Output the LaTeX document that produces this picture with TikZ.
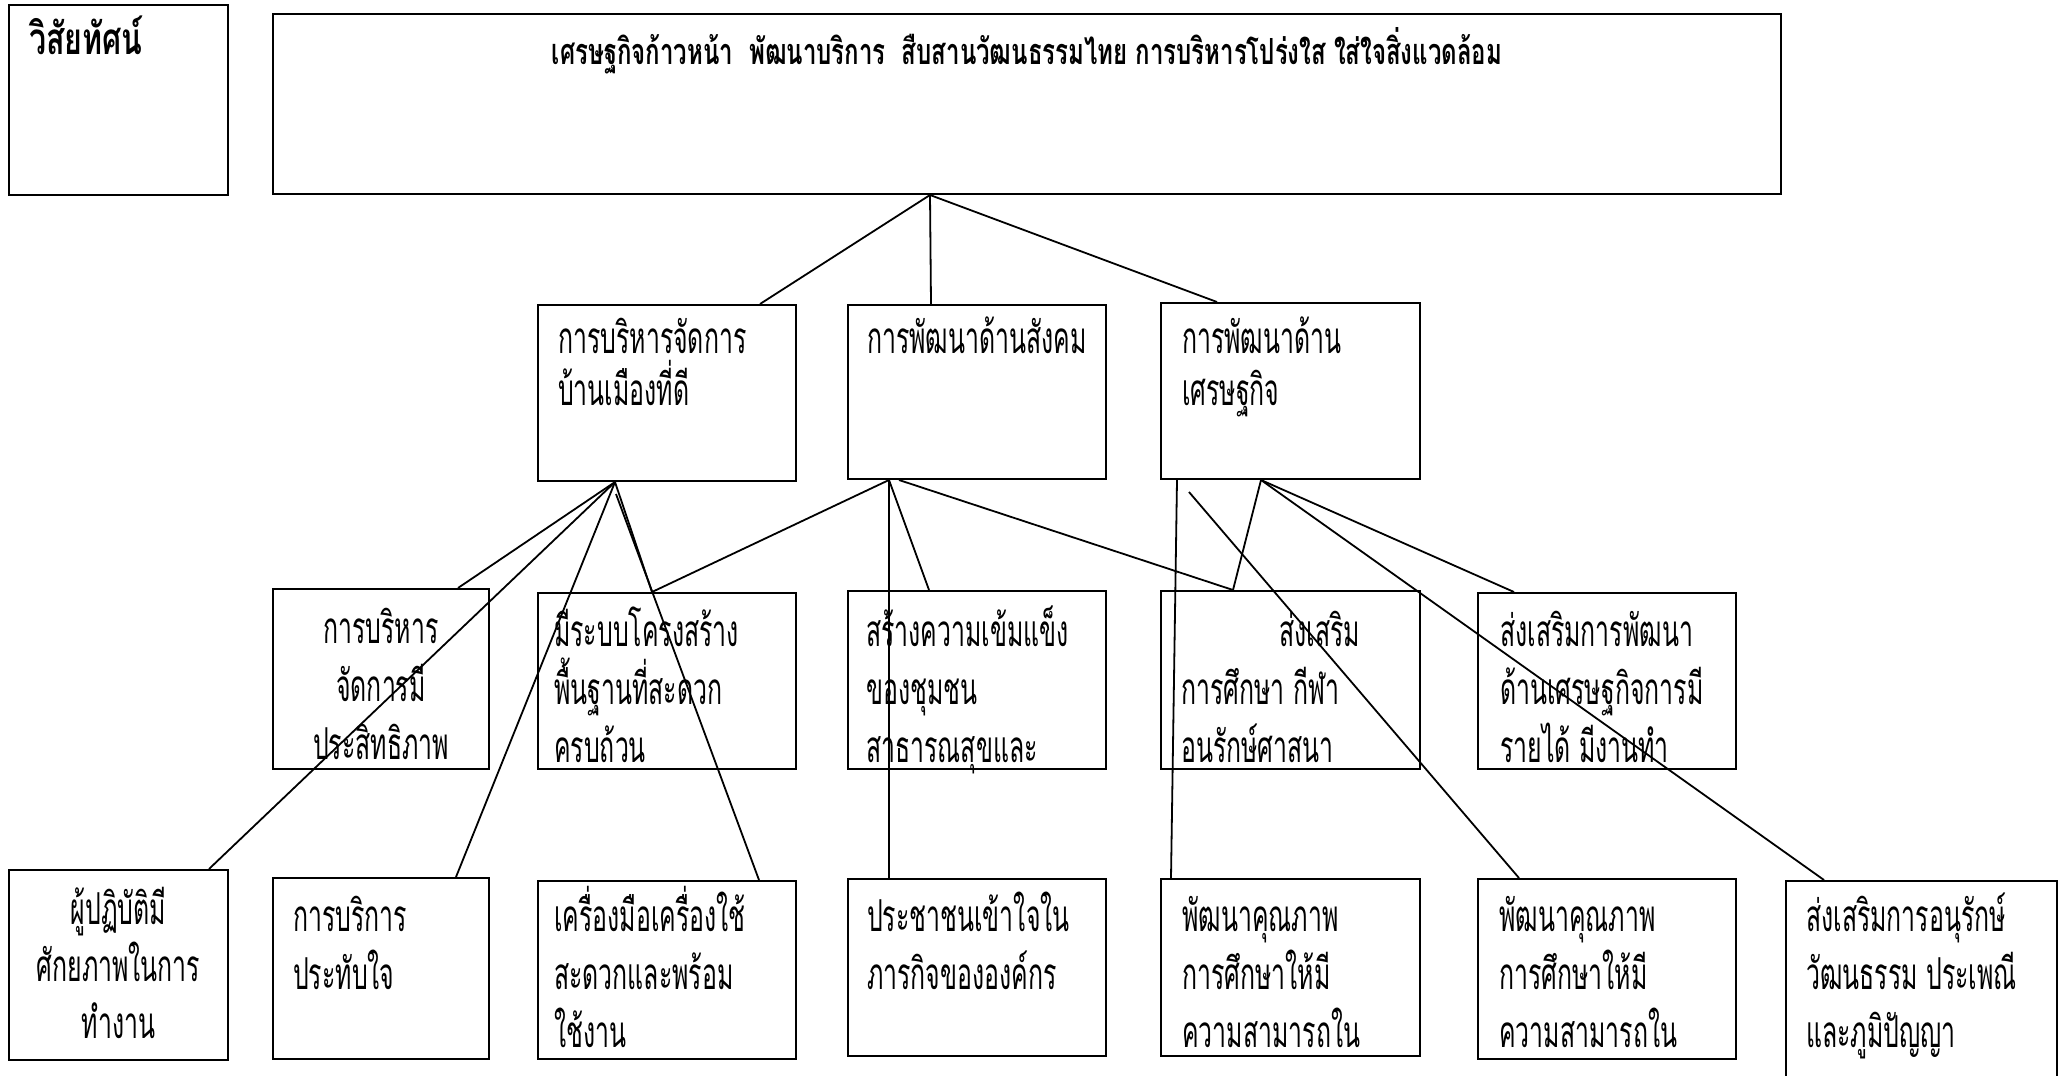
\documentclass[tikz,border=0pt]{standalone}
\usepackage{fontspec}
\newfontfamily\thai[Script=Thai,FakeStretch=0.565]{Loma}
\newfontfamily\thaib[Script=Thai,FakeStretch=0.667]{Loma Bold}
\newfontfamily\thaiv[Script=Thai,FakeStretch=0.69]{Loma Bold}
\begin{document}
\begin{tikzpicture}[x=1pt,y=-1pt,
  box/.style={draw,line width=2pt,rectangle,inner sep=0pt},
  conn/.style={line width=1.8pt},
  txt/.style={inner sep=0pt,align=left,anchor=base west,font=\thai\fontsize{44}{58}\selectfont},
  txtb/.style={txt,font=\thai\fontsize{44}{52}\selectfont},
  ctxt/.style={txt,align=center,anchor=base},
  ttl/.style={inner sep=0pt,anchor=base,font=\thaib\fontsize{36}{40}\selectfont}]
\useasboundingbox[fill=white] (0,0) rectangle (2067,1076);
% boxes
\node[box,minimum width=219pt,minimum height=190pt] (vis) at (118.5,100) {};
\node[box,minimum width=1508pt,minimum height=180pt] (top) at (1027,104) {};
\node[box,minimum width=258pt,minimum height=176pt] (A) at (667,393) {};
\node[box,minimum width=258pt,minimum height=174pt] (B) at (977,392) {};
\node[box,minimum width=259pt,minimum height=176pt] (C) at (1290.5,391) {};
\node[box,minimum width=216pt,minimum height=180pt] (D) at (381,679) {};
\node[box,minimum width=258pt,minimum height=176pt] (E) at (667,681) {};
\node[box,minimum width=258pt,minimum height=178pt] (F) at (977,680) {};
\node[box,minimum width=259pt,minimum height=178pt] (G) at (1290.5,680) {};
\node[box,minimum width=258pt,minimum height=176pt] (H) at (1607,681) {};
\node[box,minimum width=219pt,minimum height=190pt] (I) at (118.5,965) {};
\node[box,minimum width=216pt,minimum height=181pt] (J) at (381,968.5) {};
\node[box,minimum width=258pt,minimum height=178pt] (K) at (667,970) {};
\node[box,minimum width=258pt,minimum height=177pt] (L) at (977,967.5) {};
\node[box,minimum width=259pt,minimum height=177pt] (M) at (1290.5,967.5) {};
\node[box,minimum width=258pt,minimum height=180pt] (N) at (1607,969) {};
\node[box,minimum width=271pt,minimum height=219pt] (O) at (1921.5,990.5) {};
% texts (anchor = baseline of last line)
\node[inner sep=0pt,anchor=base west,font=\thaiv\fontsize{44}{48}\selectfont] (tvis) at (29,54) {วิสัยทัศน์};
\node[ttl] (ttop) at (1027,64) {เศรษฐกิจก้าวหน้า\ \ พัฒนาบริการ\ \ สืบสานวัฒนธรรมไทย การบริหารโปร่งใส ใส่ใจสิ่งแวดล้อม};
\node[txtb] (tA) at (558,405) {การบริหารจัดการ\\บ้านเมืองที่ดี};
\node[txtb] (tB) at (867,353) {การพัฒนาด้านสังคม};
\node[txtb] (tC) at (1182,405) {การพัฒนาด้าน\\เศรษฐกิจ};
\node[ctxt] (tD) at (381,759) {การบริหาร\\จัดการมี\\ประสิทธิภาพ};
\node[txt] (tE) at (554,762) {มีระบบโครงสร้าง\\พื้นฐานที่สะดวก\\ครบถ้วน};
\node[txt] (tF) at (866,762) {สร้างความเข้มแข็ง\\ของชุมชน\\สาธารณสุขและ};
\node[txt] (tG) at (1181,762) {\hspace*{98pt}ส่งเสริม\\การศึกษา กีฬา\\อนรักษ์ศาสนา};
\node[txt] (tH) at (1500,762) {ส่งเสริมการพัฒนา\\ด้านเศรษฐกิจการมี\\รายได้ มีงานทำ};
\node[ctxt,font=\thai\fontsize{44}{57}\selectfont] (tI) at (118.5,1038) {ผู้ปฏิบัติมี\\ศักยภาพในการ\\ทำงาน};
\node[txt] (tJ) at (293,989) {การบริการ\\ประทับใจ};
\node[txt] (tK) at (554,1047) {เครื่องมือเครื่องใช้\\สะดวกและพร้อม\\ใช้งาน};
\node[txt] (tL) at (867,989) {ประชาชนเข้าใจใน\\ภารกิจขององค์กร};
\node[txt] (tM) at (1182,1047) {พัฒนาคุณภาพ\\การศึกษาให้มี\\ความสามารถใน};
\node[txt] (tN) at (1499,1047) {พัฒนาคุณภาพ\\การศึกษาให้มี\\ความสามารถใน};
\node[txt] (tO) at (1806,1047) {ส่งเสริมการอนุรักษ์\\วัฒนธรรม ประเพณี\\และภูมิปัญญา};
% connectors
\draw[conn] ([xshift=658pt]top.south west) -- ([xshift=223pt]A.north west);
\draw[conn] ([xshift=658pt]top.south west) -- ([xshift=84pt]B.north west);
\draw[conn] ([xshift=658pt]top.south west) -- ([xshift=57pt]C.north west);
\draw[conn] ([xshift=78pt]A.south west) -- ([xshift=186pt]D.north west);
\draw[conn] ([xshift=78pt]A.south west) -- ([xshift=201pt]I.north west);
\draw[conn] ([xshift=78pt]A.south west) -- ([xshift=184pt]J.north west);
\draw[conn] ([xshift=78pt]A.south west) -- ([xshift=115pt]E.north west);
\draw[conn] ([xshift=79pt,yshift=-12pt]A.south west) -- ([xshift=222pt]K.north west);
\draw[conn] ([xshift=42pt]B.south west) -- ([xshift=115pt]E.north west);
\draw[conn] ([xshift=42pt]B.south west) -- ([xshift=42pt]L.north west);
\draw[conn] ([xshift=42pt]B.south west) -- ([xshift=82pt]F.north west);
\draw[conn] ([xshift=52pt]B.south west) -- ([xshift=73pt]G.north west);
\draw[conn] ([xshift=101pt]C.south west) -- ([xshift=73pt]G.north west);
\draw[conn] ([xshift=101pt]C.south west) -- ([xshift=37pt]H.north west);
\draw[conn] ([xshift=101pt]C.south west) -- ([xshift=39pt]O.north west);
\draw[conn] ([xshift=17pt]C.south west) -- ([xshift=11pt]M.north west);
\draw[conn] ([xshift=29pt,yshift=-12pt]C.south west) -- ([xshift=42pt]N.north west);
\end{tikzpicture}
\end{document}
